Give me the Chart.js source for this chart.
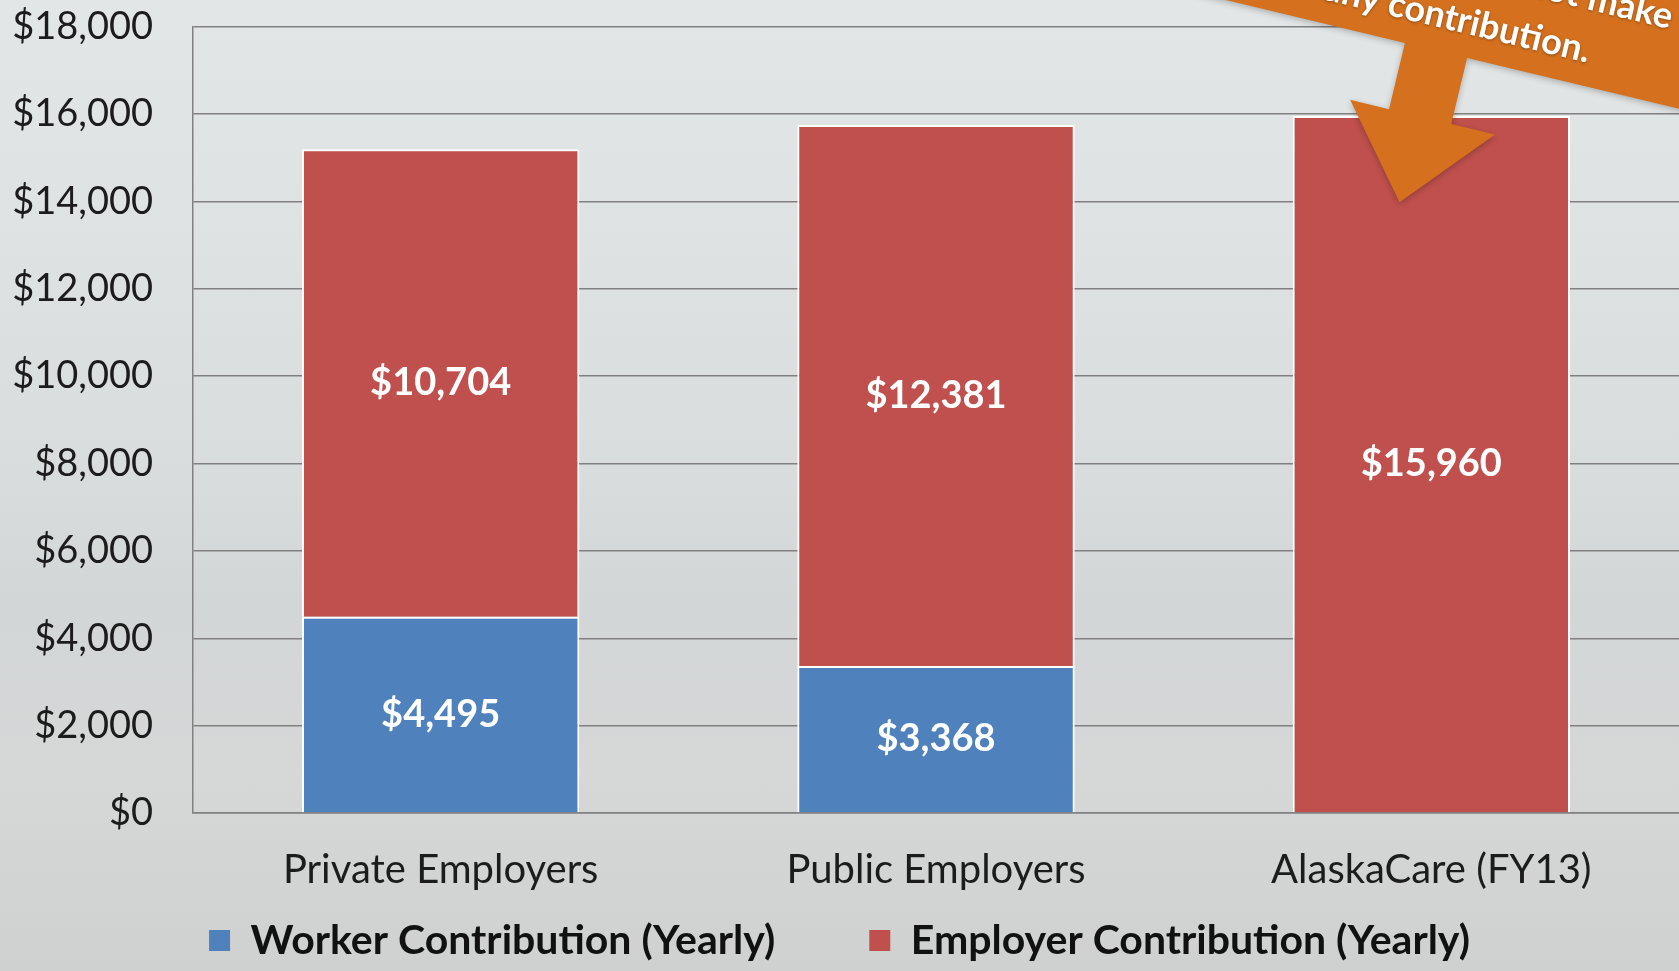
<!DOCTYPE html>
<html>
<head>
<meta charset="utf-8">
<script src="https://cdn.jsdelivr.net/npm/chart.js@4.4.1/dist/chart.umd.min.js"></script>
<style>
  html, body { margin: 0; padding: 0; overflow: hidden; }
  body {
    width: 1679px; height: 971px;
    background: linear-gradient(180deg, #e3e6e7 0%, #dfe2e3 25%, #d9dcdd 50%, #d3d6d6 62%, #d6d8d8 80%, #cfd1d1 100%);
  }
  #wrap { position: relative; width: 1679px; height: 971px; }
</style>
</head>
<body>
<div id="wrap"><canvas id="chart" width="1679" height="971"></canvas></div>
<script>
// chart values
const categories = ['Private Employers', 'Public Employers', 'AlaskaCare (FY13)'];
const workerValues = [4495, 3368, 0];
const employerValues = [10704, 12381, 15960];
const seriesNames = ['Worker Contribution (Yearly)', 'Employer Contribution (Yearly)'];
const yMax = 18000;
const yStep = 2000;
const calloutLines = ['Employees do not make', 'any contribution.'];

const FONT = 'Lato, "Open Sans", sans-serif';
const gridGrey = '#808080';

// white value labels in the middle of each segment
const segmentLabels = {
    id: 'segmentLabels',
    afterDatasetsDraw(chart) {
        const ctx = chart.ctx;
        ctx.save();
        ctx.font = 'bold 38px ' + FONT;
        ctx.fillStyle = '#ffffff';
        ctx.textAlign = 'center';
        ctx.textBaseline = 'middle';
        chart.data.datasets.forEach((ds, di) => {
            chart.getDatasetMeta(di).data.forEach((bar, i) => {
                const v = ds.data[i];
                if (!v) return;
                const p = bar.getProps(['x', 'y', 'base'], true);
                ctx.fillText('$' + v.toLocaleString('en-US'), p.x, (p.y + p.base) / 2);
            });
        });
        ctx.restore();
    }
};

// orange arrow callout, top right
const callout = {
    id: 'callout',
    afterDraw(chart) {
        const ctx = chart.ctx;
        ctx.save();
        ctx.translate(1436, 50.5);
        ctx.rotate(13.5 * Math.PI / 180);
        ctx.shadowColor = 'rgba(0,0,0,0.25)';
        ctx.shadowBlur = 6;
        ctx.shadowOffsetY = 2;
        ctx.fillStyle = '#d5711e';
        ctx.beginPath();
        ctx.moveTo(-500, -220);
        ctx.lineTo(600, -220);
        ctx.lineTo(600, 0);
        ctx.lineTo(32, 0);
        ctx.lineTo(32, 68);
        ctx.lineTo(77, 68);
        ctx.lineTo(0, 156);
        ctx.lineTo(-72, 68);
        ctx.lineTo(-32, 68);
        ctx.lineTo(-32, 0);
        ctx.lineTo(-500, 0);
        ctx.closePath();
        ctx.fill();
        ctx.shadowColor = 'rgba(0,0,0,0.35)';
        ctx.shadowBlur = 3;
        ctx.shadowOffsetY = 1;
        ctx.fillStyle = '#ffffff';
        ctx.font = 'bold 36px ' + FONT;
        ctx.textAlign = 'right';
        ctx.textBaseline = 'middle';
        ctx.fillText(calloutLines[0], 222, -87);
        ctx.fillText(calloutLines[1], 150, -35);
        ctx.restore();
    }
};

Chart.defaults.font.family = FONT;
Chart.defaults.color = '#1c1c1c';

new Chart(document.getElementById('chart'), {
    type: 'bar',
    data: {
        labels: categories,
        datasets: [
            {
                label: seriesNames[0],
                data: workerValues,
                backgroundColor: '#4f81bd',
                borderColor: '#ffffff',
                borderWidth: 2
            },
            {
                label: seriesNames[1],
                data: employerValues,
                backgroundColor: '#c0504d',
                borderColor: '#ffffff',
                borderWidth: 2
            }
        ]
    },
    options: {
        responsive: false,
        devicePixelRatio: 1,
        animation: false,
        categoryPercentage: 1,
        barPercentage: 0.56,
        layout: { padding: { top: 26, right: 0, bottom: 0, left: 0 } },
        plugins: {
            tooltip: { enabled: false },
            legend: {
                position: 'bottom',
                labels: {
                    font: { size: 41, weight: 'bold' },
                    color: '#111111',
                    boxWidth: 21,
                    boxHeight: 21,
                    padding: 94,
                    generateLabels(chart) {
                        const items = Chart.defaults.plugins.legend.labels.generateLabels(chart);
                        items.forEach(it => { it.lineWidth = 0; it.strokeStyle = 'rgba(0,0,0,0)'; });
                        return items;
                    }
                }
            }
        },
        scales: {
            x: {
                stacked: true,
                grid: { drawOnChartArea: false, drawTicks: false },
                border: { display: true, color: gridGrey, width: 1.5 },
                // mirrored with a negative padding so the labels sit below the axis without being clipped
                ticks: { font: { size: 40 }, mirror: true, padding: -81, maxRotation: 0, autoSkip: false },
                afterFit(scale) { scale.height = 13; }
            },
            y: {
                stacked: true,
                min: 0,
                max: yMax,
                grid: { color: gridGrey, lineWidth: 1.5, drawTicks: true, tickLength: 36, tickColor: 'rgba(0,0,0,0)' },
                border: { display: true, color: gridGrey, width: 1.5 },
                ticks: {
                    stepSize: yStep,
                    font: { size: 38 },
                    padding: 4,
                    callback: v => '$' + v.toLocaleString('en-US')
                },
                afterFit(scale) { scale.width = 193; }
            }
        }
    },
    plugins: [segmentLabels, callout]
});
</script>
</body>
</html>
